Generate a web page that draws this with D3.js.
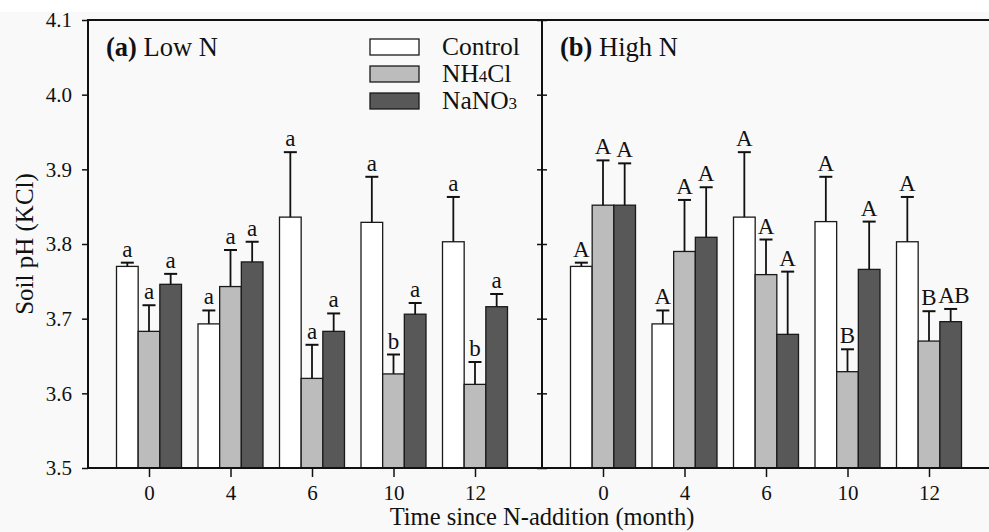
<!DOCTYPE html>
<html>
<head>
<meta charset="utf-8">
<script src="https://cdn.jsdelivr.net/npm/d3@7"></script>
<style>
  body { margin: 0; background: #fff; }
  svg { display: block; font-family: "Liberation Serif", "Times New Roman", serif; }
  svg .tick text { font-family: "Liberation Serif", "Times New Roman", serif; font-size: 21px; fill: #111; }
</style>
</head>
<body>
<svg width="989" height="532"></svg>
<script>
// data
var times = ["0", "4", "6", "10", "12"];
var treatments = ["Control", "NH4Cl", "NaNO3"];
var yTicks = [3.5, 3.6, 3.7, 3.8, 3.9, 4.0, 4.1];

var lowControl = [3.770, 3.693, 3.836, 3.829, 3.803];
var lowNH4 = [3.683, 3.743, 3.620, 3.626, 3.612];
var lowNO3 = [3.746, 3.776, 3.683, 3.706, 3.716];
var lowControlSE = [0.005, 0.018, 0.087, 0.061, 0.060];
var lowNH4SE = [0.035, 0.049, 0.045, 0.026, 0.030];
var lowNO3SE = [0.014, 0.027, 0.024, 0.015, 0.017];
var lowControlLet = ["a", "a", "a", "a", "a"];
var lowNH4Let = ["a", "a", "a", "b", "b"];
var lowNO3Let = ["a", "a", "a", "a", "a"];

var highControl = [3.770, 3.693, 3.836, 3.830, 3.803];
var highNH4 = [3.852, 3.790, 3.759, 3.629, 3.670];
var highNO3 = [3.852, 3.809, 3.679, 3.766, 3.696];
var highControlSE = [0.005, 0.018, 0.087, 0.060, 0.060];
var highNH4SE = [0.060, 0.069, 0.047, 0.030, 0.040];
var highNO3SE = [0.056, 0.067, 0.084, 0.064, 0.017];
var highControlLet = ["A", "A", "A", "A", "A"];
var highNH4Let = ["A", "A", "A", "B", "B"];
var highNO3Let = ["A", "A", "A", "A", "AB"];

var fills = ["#ffffff", "#bcbcbc", "#585858"];

var svg = d3.select("svg"),
    width = +svg.attr("width"),
    height = +svg.attr("height");

var plotTop = 20, plotBottom = 468, left = 88, mid = 542, right = 989;

// faint paper tone like the scanned figure
svg.append("rect").attr("x", 0).attr("y", 12).attr("width", width).attr("height", height - 12).attr("fill", "#f9f9f9");

var y = d3.scaleLinear().domain([3.5, 4.1]).range([plotBottom, plotTop]);

var inner = d3.scaleBand().domain(treatments).range([-32.5, 32.5]);

function panel(x0, x1, means, ses, lets, title) {
    var x = d3.scalePoint().domain(times).range([x0 + 61, x0 + 61 + 4 * 81.5]);
    var g = svg.append("g");

    treatments.forEach(function(t, k) {
        var rows = times.map(function(tm, i) {
            return {time: tm, v: means[k][i], se: ses[k][i], lab: lets[k][i]};
        });
        var cx = function(d) { return x(d.time) + inner(t) + inner.bandwidth() / 2; };

        g.selectAll(".bar" + k).data(rows).enter().append("rect")
            .attr("x", function(d) { return x(d.time) + inner(t); })
            .attr("y", function(d) { return y(d.v); })
            .attr("width", inner.bandwidth())
            .attr("height", function(d) { return y(3.5) - y(d.v); })
            .attr("fill", fills[k])
            .attr("stroke", "#1a1a1a")
            .attr("stroke-width", 1.3);

        g.selectAll(".err" + k).data(rows).enter().append("line")
            .attr("x1", cx).attr("x2", cx)
            .attr("y1", function(d) { return y(d.v); })
            .attr("y2", function(d) { return y(d.v + d.se); })
            .attr("stroke", "#111").attr("stroke-width", 1.8);

        g.selectAll(".cap" + k).data(rows).enter().append("line")
            .attr("x1", function(d) { return cx(d) - 6.5; })
            .attr("x2", function(d) { return cx(d) + 6.5; })
            .attr("y1", function(d) { return y(d.v + d.se); })
            .attr("y2", function(d) { return y(d.v + d.se); })
            .attr("stroke", "#111").attr("stroke-width", 2);

        // two-letter labels sit a touch to the right so they don't run into the neighbour
        g.selectAll(".lab" + k).data(rows).enter().append("text")
            .attr("x", cx)
            .attr("dx", function(d) { return d.lab.length > 1 ? 3 : 0; })
            .attr("y", function(d) { return y(d.v + d.se) - 6; })
            .attr("text-anchor", "middle")
            .attr("font-size", 23)
            .attr("letter-spacing", function(d) { return d.lab.length > 1 ? -0.5 : 0; })
            .attr("fill", "#111")
            .text(function(d) { return d.lab; });
    });

    // x ticks + labels
    var xa = svg.append("g")
        .attr("transform", "translate(0," + plotBottom + ")")
        .call(d3.axisBottom(x).tickSize(9).tickPadding(8));
    xa.select(".domain").remove();
    xa.selectAll(".tick line").attr("stroke", "#111").attr("stroke-width", 1.5);

    var tt = svg.append("text")
        .attr("x", x0 + 18)
        .attr("y", 56)
        .attr("font-size", 26.5)
        .attr("fill", "#111");
    tt.append("tspan").attr("font-weight", "bold").text(title[0]);
    tt.append("tspan").text(" " + title[1]);
}

panel(left, mid, [lowControl, lowNH4, lowNO3], [lowControlSE, lowNH4SE, lowNO3SE],
      [lowControlLet, lowNH4Let, lowNO3Let], ["(a)", "Low N"]);
panel(mid, right, [highControl, highNH4, highNO3], [highControlSE, highNH4SE, highNO3SE],
      [highControlLet, highNH4Let, highNO3Let], ["(b)", "High N"]);

// left y axis
var ya = svg.append("g")
    .attr("transform", "translate(" + left + ",0)")
    .call(d3.axisLeft(y).tickValues(yTicks).tickFormat(d3.format(".1f")).tickSize(6).tickPadding(10));
ya.select(".domain").remove();
ya.selectAll(".tick line").attr("stroke", "#111").attr("stroke-width", 1.5);

// ticks on the divider, both sides
var ym = svg.append("g")
    .attr("transform", "translate(" + mid + ",0)")
    .call(d3.axisLeft(y).tickValues(yTicks).tickSize(5).tickFormat(""));
ym.select(".domain").remove();
ym.selectAll(".tick line").attr("stroke", "#111").attr("stroke-width", 1.5).attr("x2", 5).attr("x1", -5);

// frame
var frame = [[left, plotTop, right, plotTop], [left, plotTop, left, plotBottom], [mid, plotTop, mid, plotBottom], [left, plotBottom, right, plotBottom]];
svg.selectAll(".frame").data(frame).enter().append("line")
    .attr("x1", function(d) { return d[0]; }).attr("y1", function(d) { return d[1]; })
    .attr("x2", function(d) { return d[2]; }).attr("y2", function(d) { return d[3]; })
    .attr("stroke", "#111").attr("stroke-width", 2).attr("stroke-linecap", "square");

// legend
var legend = svg.append("g").attr("transform", "translate(370,39)");
var legNames = [["Control", ""], ["NH", "4", "Cl"], ["NaNO", "3", ""]];
treatments.forEach(function(t, k) {
    var row = legend.append("g").attr("transform", "translate(0," + (k * 27) + ")");
    row.append("rect").attr("width", 49).attr("height", 16)
        .attr("fill", fills[k]).attr("stroke", "#1a1a1a").attr("stroke-width", 1.3);
    var tx = row.append("text").attr("x", 72).attr("y", 16).attr("font-size", 25.5).attr("fill", "#111");
    tx.append("tspan").text(legNames[k][0]);
    if (legNames[k].length > 2) {
        tx.append("tspan").attr("font-size", 17).text(legNames[k][1]);
        tx.append("tspan").text(legNames[k][2]);
    }
});

// axis titles
svg.append("text")
    .attr("x", 542).attr("y", 525)
    .attr("text-anchor", "middle")
    .attr("font-size", 24.5).attr("fill", "#111")
    .text("Time since N-addition (month)");

svg.append("text")
    .attr("transform", "translate(33,244) rotate(-90)")
    .attr("text-anchor", "middle")
    .attr("font-size", 25).attr("fill", "#111")
    .text("Soil pH (KCl)");
</script>
</body>
</html>
